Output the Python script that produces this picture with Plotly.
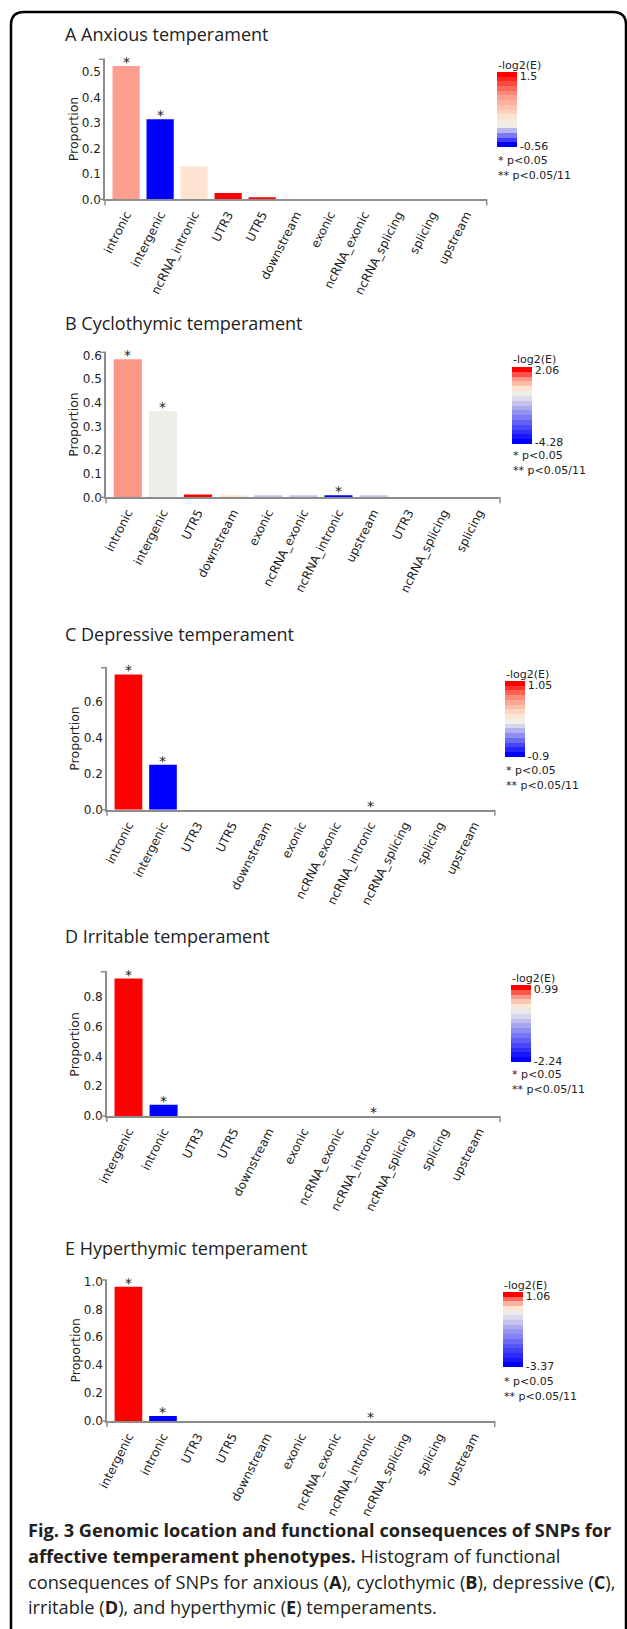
import plotly.graph_objects as go

W, H = 627, 1629

# ---------------- data ----------------
panel_titles = ["A Anxious temperament", "B Cyclothymic temperament",
                "C Depressive temperament", "D Irritable temperament",
                "E Hyperthymic temperament"]

categories_A = ["intronic", "intergenic", "ncRNA_intronic", "UTR3", "UTR5", "downstream",
                "exonic", "ncRNA_exonic", "ncRNA_splicing", "splicing", "upstream"]
proportion_A = [0.523, 0.314, 0.130, 0.025, 0.008, 0, 0, 0, 0, 0, 0]
neglog2E_A = [0.78, -0.56, 0.30, 1.5, 1.45, None, None, None, None, None, None]
signif_A = ["*", "*", "", "", "", "", "", "", "", "", ""]

categories_B = ["intronic", "intergenic", "UTR5", "downstream", "exonic", "ncRNA_exonic",
                "ncRNA_intronic", "upstream", "UTR3", "ncRNA_splicing", "splicing"]
proportion_B = [0.585, 0.366, 0.012, 0.008, 0.005, 0.005, 0.008, 0.005, 0, 0, 0]
neglog2E_B = [1.0, -0.1, 2.06, 0.3, -0.86, -0.86, -4.28, -0.86, None, None, None]
signif_B = ["*", "*", "", "", "", "", "*", "", "", "", ""]

categories_C = ["intronic", "intergenic", "UTR3", "UTR5", "downstream", "exonic",
                "ncRNA_exonic", "ncRNA_intronic", "ncRNA_splicing", "splicing", "upstream"]
proportion_C = [0.752, 0.250, 0, 0, 0, 0, 0, 0, 0, 0, 0]
neglog2E_C = [1.05, -0.9, None, None, None, None, None, None, None, None, None]
signif_C = ["*", "*", "", "", "", "", "", "*", "", "", ""]

categories_D = ["intergenic", "intronic", "UTR3", "UTR5", "downstream", "exonic",
                "ncRNA_exonic", "ncRNA_intronic", "ncRNA_splicing", "splicing", "upstream"]
proportion_D = [0.924, 0.076, 0, 0, 0, 0, 0, 0, 0, 0, 0]
neglog2E_D = [0.99, -2.24, None, None, None, None, None, None, None, None, None]
signif_D = ["*", "*", "", "", "", "", "", "*", "", "", ""]

categories_E = ["intergenic", "intronic", "UTR3", "UTR5", "downstream", "exonic",
                "ncRNA_exonic", "ncRNA_intronic", "ncRNA_splicing", "splicing", "upstream"]
proportion_E = [0.962, 0.036, 0, 0, 0, 0, 0, 0, 0, 0, 0]
neglog2E_E = [1.06, -3.37, None, None, None, None, None, None, None, None, None]
signif_E = ["*", "*", "", "", "", "", "", "*", "", "", ""]

y_dticks = [0.1, 0.1, 0.2, 0.2, 0.2]
legend_notes = ["* p<0.05", "** p<0.05/11"]
caption_lines = [
    "<b>Fig. 3 Genomic location and functional consequences of SNPs for</b>",
    "<b>affective temperament phenotypes.</b> Histogram of functional",
    "consequences of SNPs for anxious (<b>A</b>), cyclothymic (<b>B</b>), depressive (<b>C</b>),",
    "irritable (<b>D</b>), and hyperthymic (<b>E</b>) temperaments.",
]

data = [
    (categories_A, proportion_A, neglog2E_A, signif_A),
    (categories_B, proportion_B, neglog2E_B, signif_B),
    (categories_C, proportion_C, neglog2E_C, signif_C),
    (categories_D, proportion_D, neglog2E_D, signif_D),
    (categories_E, proportion_E, neglog2E_E, signif_E),
]

# ---------------- layout geometry (pixels) ----------------
geom = [
    dict(title_y=34, x0=105, x1=486.7, yt=59.3, yb=199.3, cbx=497, cbt=72, cbl=75),
    dict(title_y=323, x0=106, x1=500, yt=352.3, yb=497.3, cbx=511.5, cbt=366.5, cbl=77),
    dict(title_y=634, x0=107, x1=494.8, yt=667.7, yb=809.7, cbx=505, cbt=681, cbl=75.7),
    dict(title_y=936, x0=106.8, x1=500, yt=971.7, yb=1116, cbx=511, cbt=985.3, cbl=77.4),
    dict(title_y=1248.3, x0=107, x1=494.8, yt=1280, yb=1421, cbx=503, cbt=1292.3, cbl=75.4),
]

AXIS_COLOR = "#8c8c8c"
TEXT_COLOR = "#222222"
CHART_FONT = "DejaVu Sans"
TITLE_FONT = "Open Sans"

RED_STOPS = [(0.0, (240, 240, 232)), (0.18, (253, 228, 210)), (0.38, (253, 190, 170)),
             (0.59, (252, 150, 135)), (0.8, (255, 80, 70)), (1.0, (255, 0, 0))]
BLUE_STOPS = [(0.0, (240, 240, 232)), (0.1, (222, 222, 236)), (1.0, (0, 0, 255))]


def ramp(stops, t):
    t = max(0.0, min(1.0, t))
    for (t0, c0), (t1, c1) in zip(stops[:-1], stops[1:]):
        if t <= t1:
            f = (t - t0) / (t1 - t0) if t1 > t0 else 0
            return tuple(round(c0[i] + (c1[i] - c0[i]) * f) for i in range(3))
    return stops[-1][1]


def diverge(v, vmin, vmax):
    if v >= 0:
        c = ramp(RED_STOPS, v / vmax if vmax else 0)
    else:
        c = ramp(BLUE_STOPS, v / vmin if vmin else 0)
    return "rgb(%d,%d,%d)" % c


def stepped_scale(vmin, vmax, n=16):
    vals = [vmax - k * (vmax - vmin) / (n - 1) for k in range(n)]
    scale = []
    for k in range(n - 1, -1, -1):
        c = diverge(vals[k], vmin, vmax)
        lo = 1 - (k + 1) / n
        hi = 1 - k / n
        scale.append([max(0.0, lo), c])
        scale.append([min(1.0, hi), c])
    return scale


def fmt(v):
    return "{:g}".format(round(v, 2))


fig = go.Figure()
layout = dict(width=W, height=H, margin=dict(l=0, r=0, t=0, b=0, autoexpand=False),
              paper_bgcolor="white", plot_bgcolor="white", showlegend=False)
annotations = []
shapes = []

for i, ((cats, props, enr, sig), g) in enumerate(zip(data, geom)):
    n = i + 1
    sfx = "" if n == 1 else str(n)
    xa, ya = "x" + sfx, "y" + sfx
    vals = [v for v in enr if v is not None]
    vmin, vmax = min(vals), max(vals)
    colors = [v if v is not None else 0.0 for v in enr]
    fig.add_trace(go.Bar(
        x=cats, y=props, xaxis=xa, yaxis=ya,
        marker=dict(color=colors, coloraxis="coloraxis" + sfx, line=dict(width=0)),
        hoverinfo="x+y",
    ))
    ymax = max(props) * 1.05
    layout["xaxis" + sfx] = dict(
        domain=[g["x0"] / W, g["x1"] / W], anchor=ya, type="category",
        categoryorder="array", categoryarray=cats, range=[-0.62, 10.6],
        showline=True, linecolor=AXIS_COLOR, linewidth=1.5, ticks="outside",
        ticklen=2, tickcolor="rgba(0,0,0,0)", tickangle=-63, automargin=False,
        tickfont=dict(family=CHART_FONT, size=12, color=TEXT_COLOR),
        showgrid=False, zeroline=False, fixedrange=True)
    layout["yaxis" + sfx] = dict(
        domain=[1 - g["yb"] / H, 1 - g["yt"] / H], anchor=xa, range=[0, ymax],
        dtick=y_dticks[i], tick0=0, tickformat=".1f", showline=True, automargin=False,
        linecolor=AXIS_COLOR, linewidth=1.5, ticks="",
        tickfont=dict(family=CHART_FONT, size=12, color=TEXT_COLOR),
        showgrid=False, zeroline=False, fixedrange=True)
    rng = vmax - vmin
    layout["coloraxis" + sfx] = dict(
        cmin=vmin, cmax=vmax, colorscale=stepped_scale(vmin, vmax),
        colorbar=dict(x=g["cbx"] / W, xanchor="left", y=1 - g["cbt"] / H, yanchor="top",
                      len=g["cbl"], lenmode="pixels", thickness=20, thicknessmode="pixels",
                      xpad=0, ypad=0, outlinewidth=0, ticks="",
                      tickvals=[vmin + 0.015 * rng, vmax - 0.05 * rng],
                      ticktext=[fmt(vmin), fmt(vmax)],
                      tickfont=dict(family=CHART_FONT, size=11, color=TEXT_COLOR)))

    # domain end caps (d3 style outer ticks)
    xd, yd = xa + " domain", ya + " domain"
    for yy in (0, 1):
        shapes.append(dict(type="line", xref=xd, yref=yd, xsizemode="pixel", xanchor=0,
                           x0=-6, x1=0, y0=yy, y1=yy,
                           line=dict(color=AXIS_COLOR, width=1.5)))
    for xx in (0, 1):
        shapes.append(dict(type="line", xref=xd, yref=yd, ysizemode="pixel", yanchor=0,
                           y0=0, y1=-6, x0=xx, x1=xx,
                           line=dict(color=AXIS_COLOR, width=1.5)))

    # panel title
    annotations.append(dict(text=panel_titles[i], xref="paper", yref="paper",
                            x=63 / W, y=1 - g["title_y"] / H, xanchor="left", yanchor="middle",
                            showarrow=False, font=dict(family=TITLE_FONT, size=18, color=TEXT_COLOR)))
    # y-axis label
    annotations.append(dict(text="Proportion", xref="paper", yref="paper",
                            x=(g["x0"] - 32) / W, y=1 - (g["yt"] + g["yb"]) / 2 / H,
                            xanchor="center", yanchor="middle", textangle=-90, showarrow=False,
                            font=dict(family=CHART_FONT, size=12.5, color=TEXT_COLOR)))
    # significance stars
    for c, p, s in zip(cats, props, sig):
        if s:
            annotations.append(dict(text=s, xref=xa, yref=ya, x=c, y=p, yanchor="middle",
                                    yshift=4, showarrow=False,
                                    font=dict(family=CHART_FONT, size=14, color=TEXT_COLOR)))
    # legend title & notes
    annotations.append(dict(text="-log2(E)", xref="paper", yref="paper",
                            x=(g["cbx"] - 1) / W, y=1 - (g["cbt"] - 7) / H,
                            xanchor="left", yanchor="middle", showarrow=False,
                            font=dict(family=CHART_FONT, size=11, color=TEXT_COLOR)))
    for k, note in enumerate(legend_notes):
        annotations.append(dict(text=note, xref="paper", yref="paper",
                                x=(g["cbx"] - 1) / W, y=1 - (g["cbt"] + 89 + 15 * k) / H,
                                xanchor="left", yanchor="middle", showarrow=False,
                                font=dict(family=CHART_FONT, size=11, color=TEXT_COLOR)))

# caption
for k, line in enumerate(caption_lines):
    annotations.append(dict(text=line, xref="paper", yref="paper", x=26 / W,
                            y=1 - (1530 + 25.8 * k) / H, xanchor="left", yanchor="middle",
                            showarrow=False,
                            font=dict(family=TITLE_FONT, size=18.2, color="#231f20")))

# rounded outer frame
Lx, Ty, Rx, By, r = 11, 12, 626, 1645, 13
pts = lambda x, y: "%.5f,%.5f" % (x / W, 1 - y / H)
path = ("M " + pts(Lx, Ty + r) + " Q " + pts(Lx, Ty) + " " + pts(Lx + r, Ty) +
        " L " + pts(Rx - r, Ty) + " Q " + pts(Rx, Ty) + " " + pts(Rx, Ty + r) +
        " L " + pts(Rx, By - r) + " Q " + pts(Rx, By) + " " + pts(Rx - r, By) +
        " L " + pts(Lx + r, By) + " Q " + pts(Lx, By) + " " + pts(Lx, By - r) + " Z")
shapes.append(dict(type="path", xref="paper", yref="paper", path=path,
                   line=dict(color="black", width=2.5), fillcolor="rgba(0,0,0,0)"))

layout["annotations"] = annotations
layout["shapes"] = shapes
fig.update_layout(**layout)
fig.write_html("out.html", config={"displayModeBar": False},
               post_script="document.body.style.margin='0';document.body.style.padding='0';"
                           "document.body.style.overflow='hidden';")
